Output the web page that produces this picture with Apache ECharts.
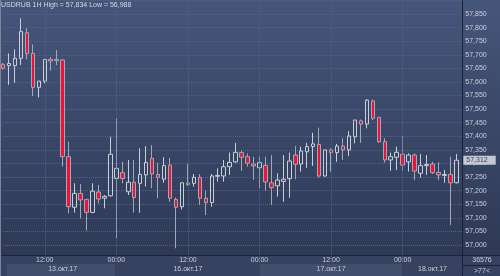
<!DOCTYPE html>
<html>
<head>
<meta charset="utf-8">
<script src="https://cdn.jsdelivr.net/npm/echarts@6/dist/echarts.min.js"></script>
<style>html,body{margin:0;padding:0;background:#2e3954}#c{width:500px;height:276px}</style>
</head>
<body>
<div id="c"></div>
<script>
// Categories (1H candles)
const times = [
'13.10 05:00','13.10 06:00','13.10 07:00','13.10 08:00','13.10 09:00','13.10 10:00','13.10 11:00','13.10 12:00','13.10 13:00','13.10 14:00',
'13.10 15:00','13.10 16:00','13.10 17:00','13.10 18:00','13.10 19:00','13.10 20:00','13.10 21:00','13.10 22:00','13.10 23:00',
'16.10 00:00','16.10 01:00','16.10 02:00','16.10 03:00','16.10 04:00','16.10 05:00','16.10 06:00','16.10 07:00','16.10 08:00','16.10 09:00',
'16.10 10:00','16.10 11:00','16.10 12:00','16.10 13:00','16.10 14:00','16.10 15:00','16.10 16:00','16.10 17:00','16.10 18:00','16.10 19:00',
'16.10 20:00','16.10 21:00','16.10 22:00','16.10 23:00',
'17.10 00:00','17.10 01:00','17.10 02:00','17.10 03:00','17.10 04:00','17.10 05:00','17.10 06:00','17.10 07:00','17.10 08:00','17.10 09:00',
'17.10 10:00','17.10 11:00','17.10 12:00','17.10 13:00','17.10 14:00','17.10 15:00','17.10 16:00','17.10 17:00','17.10 18:00','17.10 19:00',
'17.10 20:00','17.10 21:00','17.10 22:00','17.10 23:00',
'18.10 00:00','18.10 01:00','18.10 02:00','18.10 03:00','18.10 04:00','18.10 05:00','18.10 06:00','18.10 07:00','18.10 08:00','18.10 09:00',
''
];
const opens = [57665,57660,57660,57687,57781,57705,57580,57603,57683,57683,
57681,57325,57139,57190,57168,57120,57195,57172,57181,
57245,57266,57196,57231,57227,57258,57319,57260,57242,57294,
57168,57141,57228,57227,57249,57172,57156,57253,57254,57288,
57306,57340,57325,57298,
57284,57293,57229,57218,57234,57244,57331,57298,57343,57362,
57370,57254,57350,57340,57364,57350,57398,57457,57445,57530,
57470,57380,57313,57323,
57334,57306,57331,57264,57292,57298,57267,57256,57260,57229];
const closes = [57650,57668,57687,57785,57705,57580,57603,57683,57677,57678,
57325,57141,57190,57166,57120,57198,57169,57179,57334,
57282,57245,57231,57175,57260,57304,57261,57249,57292,57172,
57139,57229,57222,57249,57172,57156,57254,57256,57288,57304,
57341,57323,57301,57291,
57303,57232,57211,57239,57242,57309,57297,57346,57362,57372,
57254,57350,57340,57364,57350,57401,57460,57445,57533,57466,
57380,57313,57325,57341,
57294,57331,57272,57292,57296,57266,57258,57260,57229,57312];
const lows = [57645,57589,57597,57662,57683,57548,57543,57595,57641,57662,
57288,57117,57119,57098,57053,57117,57153,57135,57178,
57025,57227,57184,57119,57119,57215,57209,57172,57229,57159,
56988,57131,57218,57215,57147,57110,57141,57233,57233,57258,
57303,57273,57288,57239,
57209,57200,57147,57178,57159,57174,57242,57270,57284,57291,
57249,57251,57270,57306,57313,57327,57374,57376,57429,57460,
57376,57303,57273,57276,
57272,57270,57239,57248,57258,57261,57239,57229,57074,57227];
const highs = [57670,57705,57720,57834,57798,57738,57603,57684,57691,57717,
57683,57380,57227,57224,57169,57227,57221,57184,57398,
57466,57306,57313,57313,57356,57364,57368,57303,57323,57321,
57175,57229,57298,57261,57261,57200,57261,57282,57313,57340,
57376,57347,57337,57325,
57325,57325,57331,57264,57331,57340,57364,57362,57376,57413,
57432,57350,57356,57372,57393,57419,57460,57462,57537,57536,
57471,57393,57340,57362,
57401,57337,57337,57335,57331,57306,57304,57276,57325,57335];
const timeTickIdx = [7,19,31,43,55,67];
const dateLabels = {10:'13.окт.17', 31:'16.окт.17', 55:'17.окт.17', 72:'18.окт.17'};
const lastPrice = 57312;
const titleText = 'USDRUB 1H High = 57,834 Low = 56,988';

const candles = opens.map((o,i)=>[o, closes[i], lows[i], highs[i]]);
const fmt = v => String(v).replace(/\B(?=(\d{3})+(?!\d))/g, ',');
const FONT = 'Liberation Sans';
const TXT = '#c9cfdb';

const chart = echarts.init(document.getElementById('c'), null, {renderer:'canvas'});
chart.setOption({
  animation:false,
  backgroundColor:{type:'linear',x:0,y:0,x2:0,y2:1,colorStops:[{offset:0,color:'#46557a'},{offset:1,color:'#2c3752'}]},
  title:{text:titleText,left:1,top:2,padding:0,textStyle:{fontSize:7,fontWeight:'normal',color:'#d4d9e3',fontFamily:FONT}},
  grid:{left:3,top:0.4,width:459.3,height:258.2,containLabel:false},
  xAxis:[{
    type:'category',data:times,boundaryGap:false,z:5,
    axisLine:{show:false},axisTick:{show:false},
    axisLabel:{interval:(i)=>timeTickIdx.includes(i),formatter:v=>v.slice(-5),margin:-2,fontSize:7,color:TXT,fontFamily:FONT},
    splitLine:{show:true,interval:(i)=>timeTickIdx.includes(i),lineStyle:{type:'dotted',color:'#4f6390',width:1}}
  },{
    type:'category',data:times,boundaryGap:false,z:5,position:'bottom',
    axisLine:{show:false},axisTick:{show:false},splitLine:{show:false},
    axisLabel:{interval:(i)=>dateLabels[i]!==undefined,formatter:(v,i)=>dateLabels[i]||'',margin:7,fontSize:7,color:TXT,fontFamily:FONT}
  }],
  yAxis:{
    type:'value',position:'right',min:56950,max:57900,interval:50,scale:true,
    axisLine:{show:false},axisTick:{show:false},
    axisLabel:{formatter:fmt,margin:3,fontSize:7,color:TXT,fontFamily:FONT,showMinLabel:false,showMaxLabel:false},
    splitLine:{show:true,lineStyle:{type:'dotted',color:'#4f6390',width:1}}
  },
  series:[{
    type:'candlestick',data:candles,barWidth:4,z:3,
    itemStyle:{color:'rgba(0,0,0,0)',color0:'#ec1238',borderColor:'#c9ced8',borderColor0:'#a2a8b6',borderWidth:1},
    markLine:{symbol:'none',silent:true,z:10,data:[{yAxis:lastPrice}],lineStyle:{color:'rgba(0,0,0,0)',width:0},
      label:{show:true,position:'end',formatter:()=>fmt(lastPrice),backgroundColor:'#c3c8d1',color:'#3b4357',fontSize:7,fontFamily:FONT,padding:[1,8,1,3],distance:1}}
  }],
  graphic:[
    {type:'rect',z:1,shape:{x:0,y:255.5,width:500,height:21},style:{fill:'#36425f'}},
    {type:'rect',z:2,shape:{x:7,y:264,width:108,height:12},style:{fill:'#414e6c'}},
    {type:'rect',z:2,shape:{x:260,y:264,width:142,height:12},style:{fill:'#414e6c'}},
    {type:'line',z:3,shape:{x1:0,y1:255.5,x2:500,y2:255.5},style:{stroke:'#1b2236',lineWidth:1}},
    {type:'line',z:3,shape:{x1:462.5,y1:0,x2:462.5,y2:276},style:{stroke:'#1b2236',lineWidth:1}},
    {type:'line',z:3,shape:{x1:0.5,y1:0,x2:0.5,y2:276},style:{stroke:'#7d8699',lineWidth:1}},
    {type:'line',z:3,shape:{x1:462,y1:265.5,x2:500,y2:265.5},style:{stroke:'#1b2236',lineWidth:1}},
    {type:'text',z:4,style:{text:'36576',x:482,y:260.5,fill:TXT,font:'7px "Liberation Sans"',textAlign:'center',textVerticalAlign:'middle'}},
    {type:'text',z:4,style:{text:'>77<',x:482,y:271,fill:TXT,font:'7px "Liberation Sans"',textAlign:'center',textVerticalAlign:'middle'}}
  ]
});
</script>
</body>
</html>
